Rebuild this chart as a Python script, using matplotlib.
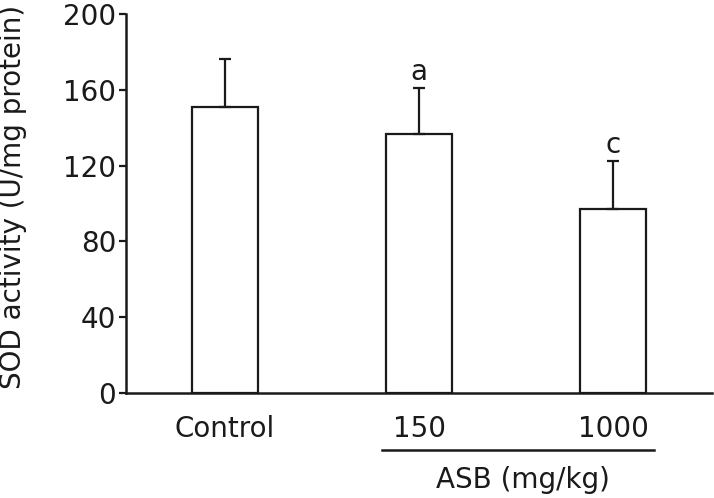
import matplotlib
matplotlib.use("Agg")
import matplotlib.pyplot as plt
import matplotlib.transforms as mtransforms

categories = ["Control", "150", "1000"]
means = [151, 136.5, 97]
errors = [25, 24.5, 25.5]
letters = ["", "a", "c"]
yticks = [0, 40, 80, 120, 160, 200]

plt.rcParams['font.family'] = ['DejaVu Sans']
fig = plt.figure(figsize=(7.14, 4.98), dpi=100)
ax = fig.add_axes([126/714, 1-393/498, (712-126)/714, (393-14)/498])

x = list(range(len(categories)))
ax.bar(x, means, width=0.34, color='white', edgecolor='#1a1a1a', linewidth=1.6,
       yerr=[[0]*len(errors), errors], capsize=4,
       error_kw=dict(ecolor='#1a1a1a', elinewidth=1.6, capthick=1.6))

for xi, m, e, l in zip(x, means, errors, letters):
    if l:
        ax.annotate(l, (xi, m + e), xytext=(0, 16), textcoords='offset pixels',
                    ha='center', va='center', fontsize=20, color='#1a1a1a')

ax.set_xlim(-0.51, 2.51)
ax.set_ylim(0, 200)
ax.set_yticks(yticks)
ax.set_xticks(x)
ax.set_xticklabels(categories)
ax.tick_params(axis='x', length=0, pad=16, labelsize=20, colors='#1a1a1a')
ax.tick_params(axis='y', length=5, width=1.6, pad=2, labelsize=20, colors='#1a1a1a')
for s in ['top', 'right']:
    ax.spines[s].set_visible(False)
for s in ['left', 'bottom']:
    ax.spines[s].set_linewidth(1.8)
    ax.spines[s].set_color('#1a1a1a')

trans = mtransforms.blended_transform_factory(ax.transData, ax.transAxes)
ax.plot([0.81, 2.21], [-0.15, -0.15], transform=trans, clip_on=False,
        color='#1a1a1a', linewidth=1.8)
ax.text(1.536, -0.23, "ASB (mg/kg)", transform=trans, ha='center', va='center',
        fontsize=20, color='#1a1a1a')

ax.set_ylabel("SOD activity (U/mg protein)", fontsize=20, color='#1a1a1a')
ax.yaxis.set_label_coords((27 - 126)/586, 0.517)

fig.savefig("out.png", dpi=100)
